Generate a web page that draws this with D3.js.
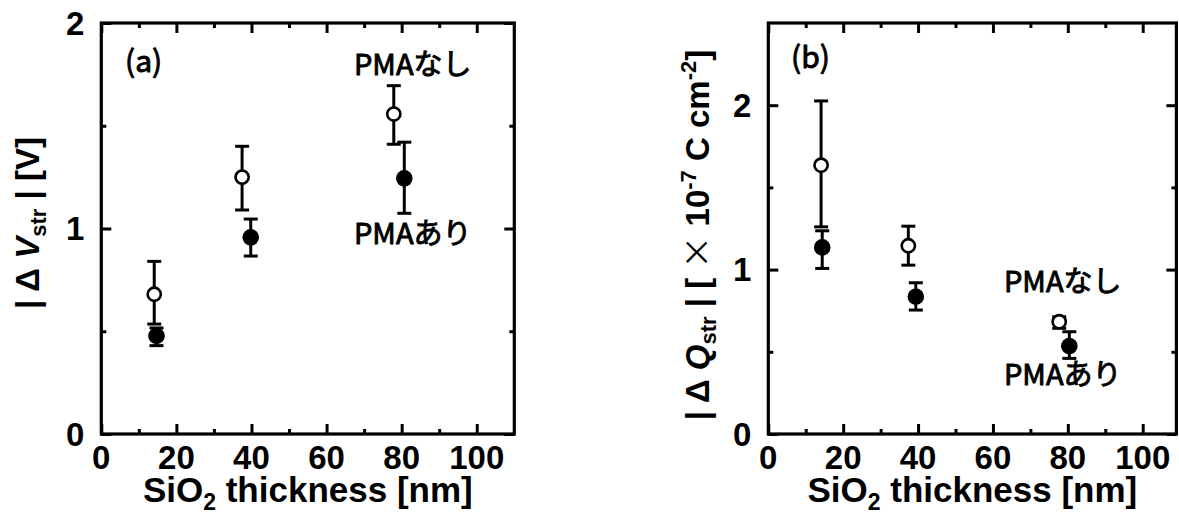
<!DOCTYPE html>
<html>
<head>
<meta charset="utf-8">
<script src="https://cdn.jsdelivr.net/npm/d3@7"></script>
<style>
  html, body { margin: 0; padding: 0; background: #fff; }
  svg { display: block; }
  .num { font-family: "Liberation Sans", Arial, sans-serif; font-weight: bold; }
  .jp { font-family: "Noto Sans CJK JP", sans-serif; font-weight: 400; stroke: #000; stroke-width: 0.9px; }
</style>
</head>
<body>
<svg id="chart" width="1179" height="518"></svg>
<script>
// Panel (a): threshold voltage shift vs SiO2 thickness
const thicknessA_none = [14.1, 37.5, 77.9];
const dV_none    = [0.68, 1.25, 1.557];
const dV_none_lo = [0.535, 1.09, 1.41];
const dV_none_hi = [0.84, 1.40, 1.695];

const thicknessA_with = [14.7, 39.8, 80.7];
const dV_with    = [0.477, 0.957, 1.244];
const dV_with_lo = [0.43, 0.866, 1.074];
const dV_with_hi = [0.516, 1.046, 1.42];

// Panel (b): charge shift vs SiO2 thickness
const thicknessB_none = [14.1, 37.4, 77.7];
const dQ_none    = [1.635, 1.145, 0.683];
const dQ_none_lo = [1.26, 1.027, 0.643];
const dQ_none_hi = [2.026, 1.264, 0.713];

const thicknessB_with = [14.4, 39.4, 80.4];
const dQ_with    = [1.135, 0.835, 0.535];
const dQ_with_lo = [1.007, 0.754, 0.46];
const dQ_with_hi = [1.236, 0.92, 0.622];

// Axis ticks
const xMajorTicks = [0, 20, 40, 60, 80, 100];
const xMinorTicks = [10, 30, 50, 70, 90];
const yMajorA = [0, 1, 2];
const yMinorA = [0.5, 1.5];
const yMajorB = [0, 1, 2];
const yMinorB = [0.5, 1.5];

const labelNone = "PMAなし";
const labelWith = "PMAあり";

const svg = d3.select("#chart");

function zip(xs, ys, lo, hi) {
  return xs.map((x, i) => ({ x: x, y: ys[i], lo: lo[i], hi: hi[i] }));
}

function drawPanel(cfg) {
  const x = d3.scaleLinear().domain(cfg.xDomain).range([cfg.left, cfg.right]);
  const y = d3.scaleLinear().domain(cfg.yDomain).range([cfg.bottom, cfg.top]);
  const g = svg.append("g");

  // tick marks pointing inward on all four sides
  const tickLayers = [
    { axis: d3.axisBottom(x), pos: `translate(0,${cfg.bottom})`, vals: xMajorTicks, size: -10 },
    { axis: d3.axisBottom(x), pos: `translate(0,${cfg.bottom})`, vals: xMinorTicks, size: -5 },
    { axis: d3.axisTop(x), pos: `translate(0,${cfg.top})`, vals: xMajorTicks, size: -10 },
    { axis: d3.axisTop(x), pos: `translate(0,${cfg.top})`, vals: xMinorTicks, size: -5 },
    { axis: d3.axisLeft(y), pos: `translate(${cfg.left},0)`, vals: cfg.yMajor, size: -10 },
    { axis: d3.axisLeft(y), pos: `translate(${cfg.left},0)`, vals: cfg.yMinor, size: -5 },
    { axis: d3.axisRight(y), pos: `translate(${cfg.right},0)`, vals: cfg.yMajor, size: -10 },
    { axis: d3.axisRight(y), pos: `translate(${cfg.right},0)`, vals: cfg.yMinor, size: -5 }
  ];
  tickLayers.forEach(t => {
    const a = g.append("g").attr("transform", t.pos)
      .call(t.axis.tickValues(t.vals).tickSize(t.size).tickFormat(""));
    a.select(".domain").remove();
    a.selectAll("line").attr("stroke", "#000").attr("stroke-width", 3);
  });

  // frame
  g.append("rect")
    .attr("x", cfg.left).attr("y", cfg.top)
    .attr("width", cfg.right - cfg.left).attr("height", cfg.bottom - cfg.top)
    .attr("fill", "none").attr("stroke", "#000").attr("stroke-width", 3.2);

  // tick labels
  g.append("g").selectAll("text").data(xMajorTicks).join("text")
    .attr("class", "num").attr("font-size", 33)
    .attr("text-anchor", "middle")
    .attr("x", d => x(d)).attr("y", cfg.bottom + 35)
    .text(d => d);
  g.append("g").selectAll("text").data(cfg.yMajor).join("text")
    .attr("class", "num").attr("font-size", 33)
    .attr("text-anchor", "end")
    .attr("x", cfg.left - 17).attr("y", d => y(d)).attr("dy", "0.35em")
    .text(d => d);

  // x title
  const xt = g.append("text").attr("class", "num").attr("font-size", 35)
    .attr("text-anchor", "middle")
    .attr("x", (cfg.left + cfg.right) / 2).attr("y", cfg.bottom + 68);
  xt.append("tspan").text("SiO");
  xt.append("tspan").attr("font-size", 23).attr("dy", 8).text("2");
  xt.append("tspan").attr("dy", -8).text(" thickness [nm]");

  // y title
  const yt = g.append("text").attr("class", "num").attr("font-size", 33)
    .attr("text-anchor", "middle")
    .attr("transform", `translate(${cfg.yTitleX},${cfg.yTitleY}) rotate(-90)`);
  cfg.yTitle(yt);

  // error bars and markers
  const series = [
    { data: zip(cfg.xNone, cfg.yNone, cfg.yNoneLo, cfg.yNoneHi), filled: false },
    { data: zip(cfg.xWith, cfg.yWith, cfg.yWithLo, cfg.yWithHi), filled: true }
  ];
  series.forEach(s => {
    const sg = g.append("g");
    sg.selectAll("line.bar").data(s.data).join("line").attr("class", "bar")
      .attr("x1", d => x(d.x)).attr("x2", d => x(d.x))
      .attr("y1", d => y(d.lo)).attr("y2", d => y(d.hi))
      .attr("stroke", "#000").attr("stroke-width", 3);
    ["lo", "hi"].forEach(k => {
      sg.selectAll("line.cap-" + k).data(s.data).join("line").attr("class", "cap-" + k)
        .attr("x1", d => x(d.x) - 7).attr("x2", d => x(d.x) + 7)
        .attr("y1", d => y(d[k])).attr("y2", d => y(d[k]))
        .attr("stroke", "#000").attr("stroke-width", 3);
    });
    sg.selectAll("circle").data(s.data).join("circle")
      .attr("cx", d => x(d.x)).attr("cy", d => y(d.y))
      .attr("r", s.filled ? 8.3 : 6.6)
      .attr("fill", s.filled ? "#000" : "#fff")
      .attr("stroke", "#000").attr("stroke-width", s.filled ? 0 : 2.6);
  });

  // annotations
  g.append("text").attr("class", "jp").attr("font-size", 30)
    .attr("x", cfg.panelLabelPos[0]).attr("y", cfg.panelLabelPos[1]).text(cfg.panelLabel);
  g.append("text").attr("class", "jp").attr("font-size", 29)
    .attr("x", cfg.nonePos[0]).attr("y", cfg.nonePos[1]).text(labelNone);
  g.append("text").attr("class", "jp").attr("font-size", 29)
    .attr("x", cfg.withPos[0]).attr("y", cfg.withPos[1]).text(labelWith);
}

drawPanel({
  left: 101.3, right: 514.3, top: 23, bottom: 434,
  xDomain: [0, 110], yDomain: [0, 2],
  yMajor: yMajorA, yMinor: yMinorA,
  xNone: thicknessA_none, yNone: dV_none, yNoneLo: dV_none_lo, yNoneHi: dV_none_hi,
  xWith: thicknessA_with, yWith: dV_with, yWithLo: dV_with_lo, yWithHi: dV_with_hi,
  yTitleX: 39, yTitleY: 223,
  yTitle: t => {
    t.append("tspan").text("| Δ ");
    t.append("tspan").attr("font-style", "italic").text("V");
    t.append("tspan").attr("font-size", 22).attr("dy", 7).text("str");
    t.append("tspan").attr("dy", -7).text(" | [V]");
  },
  panelLabel: "(a)", panelLabelPos: [125, 72],
  nonePos: [354, 75], withPos: [354, 244]
});

drawPanel({
  left: 768.3, right: 1176.4, top: 23, bottom: 434,
  xDomain: [0, 109], yDomain: [0, 2.5],
  yMajor: yMajorB, yMinor: yMinorB,
  xNone: thicknessB_none, yNone: dQ_none, yNoneLo: dQ_none_lo, yNoneHi: dQ_none_hi,
  xWith: thicknessB_with, yWith: dQ_with, yWithLo: dQ_with_lo, yWithHi: dQ_with_hi,
  yTitleX: 709, yTitleY: 235,
  yTitle: t => {
    t.append("tspan").text("| Δ ");
    t.append("tspan").attr("font-style", "italic").text("Q");
    t.append("tspan").attr("font-size", 22).attr("dy", 7).text("str");
    t.append("tspan").attr("dy", -7).text(" | [ ");
    t.append("tspan").attr("font-family", "Noto Sans CJK JP").attr("font-weight", 400).text("×");
    t.append("tspan").text(" 10");
    t.append("tspan").attr("font-size", 22).attr("dy", -13).text("-7");
    t.append("tspan").attr("dy", 13).text(" C cm");
    t.append("tspan").attr("font-size", 22).attr("dy", -13).text("-2");
    t.append("tspan").attr("dy", 13).text("]");
  },
  panelLabel: "(b)", panelLabelPos: [791, 68],
  nonePos: [1004, 292], withPos: [1004, 385]
});
</script>
</body>
</html>
